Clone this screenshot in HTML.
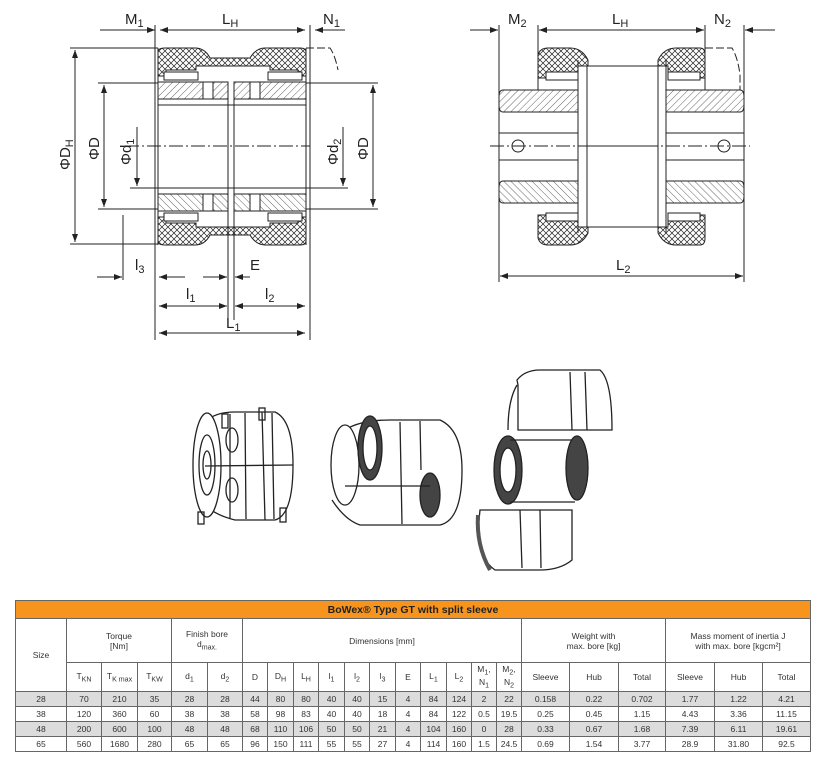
<!DOCTYPE html>
<html><head><meta charset="utf-8"><style>
body{margin:0;background:#fff;width:820px;height:772px;position:relative;overflow:hidden;font-family:"Liberation Sans",sans-serif}
svg{position:absolute;left:0;top:0}
table{position:absolute;left:15px;top:600px;border-collapse:collapse;font-size:8.5px;color:#333;table-layout:fixed}
td{border:1px solid #666;text-align:center;padding:0;height:14px;white-space:nowrap}
.h{background:#f7941d;color:#222;font-weight:bold;font-size:10.5px;height:17px}
.g td{background:#dcdcdc}
</style></head><body>
<svg width="820" height="600" viewBox="0 0 820 600">
<defs>
<pattern id="x" width="6" height="6" patternUnits="userSpaceOnUse"><path d="M0 0L6 6M6 0L0 6" stroke="#222" stroke-width="0.7"/></pattern>
<pattern id="d" width="5" height="5" patternUnits="userSpaceOnUse" patternTransform="rotate(45)"><path d="M0 0V5" stroke="#222" stroke-width="0.7"/></pattern>
<marker id="a" markerWidth="8" markerHeight="6" refX="8" refY="3" orient="auto-start-reverse"><path d="M0 0L8 3L0 6z" fill="#222"/></marker>
</defs>
<g stroke="#222" stroke-width="1" fill="none" font-family="Liberation Sans" font-size="15">
<!-- LEFT DRAWING -->
<g id="L">
<path d="M158 52Q158 48 165 48H195Q205 48 210 58H250Q256 48 265 48H300Q306 48 306 52V76H298V70H270V66H196V70H166V76H158Z" fill="url(#x)"/>
<rect x="164" y="72" width="34" height="8" fill="#fff"/><rect x="268" y="72" width="34" height="8" fill="#fff"/>
<rect x="158" y="82" width="70" height="17" fill="url(#d)"/><rect x="234" y="82" width="72" height="17" fill="url(#d)"/>
<rect x="203" y="82" width="10" height="17" fill="#fff"/><rect x="250" y="82" width="10" height="17" fill="#fff"/>
<line x1="158" y1="105" x2="306" y2="105"/>
</g>
<use href="#L" transform="translate(0,293) scale(1,-1)"/>
<line x1="158" y1="48" x2="158" y2="245"/><line x1="306" y1="48" x2="306" y2="245"/>
<line x1="228" y1="82" x2="228" y2="320"/><line x1="234" y1="82" x2="234" y2="320"/>
<line x1="155" y1="25" x2="155" y2="340"/><line x1="310" y1="25" x2="310" y2="340"/>
<line x1="125" y1="146" x2="310" y2="146" stroke-dasharray="14 3 2 3"/>
<line x1="100" y1="30" x2="155" y2="30" marker-end="url(#a)"/><line x1="160" y1="30" x2="305" y2="30" marker-start="url(#a)" marker-end="url(#a)"/><line x1="315" y1="30" x2="345" y2="30" marker-start="url(#a)"/>
<text x="125" y="24" stroke="none" fill="#222">M<tspan font-size="11" dy="3">1</tspan></text>
<text x="222" y="24" stroke="none" fill="#222">L<tspan font-size="11" dy="3">H</tspan></text>
<text x="323" y="24" stroke="none" fill="#222">N<tspan font-size="11" dy="3">1</tspan></text>
<line x1="70" y1="48" x2="158" y2="48"/><line x1="70" y1="244" x2="158" y2="244"/>
<line x1="75" y1="50" x2="75" y2="242" marker-start="url(#a)" marker-end="url(#a)"/>
<line x1="98" y1="83" x2="158" y2="83"/><line x1="98" y1="209" x2="158" y2="209"/>
<line x1="104" y1="85" x2="104" y2="207" marker-start="url(#a)" marker-end="url(#a)"/>
<line x1="130" y1="188" x2="158" y2="188"/><line x1="137" y1="127" x2="137" y2="186" marker-end="url(#a)"/>
<line x1="306" y1="83" x2="378" y2="83"/><line x1="306" y1="209" x2="378" y2="209"/><line x1="306" y1="188" x2="348" y2="188"/>
<line x1="373" y1="85" x2="373" y2="207" marker-start="url(#a)" marker-end="url(#a)"/>
<line x1="343" y1="127" x2="343" y2="186" marker-end="url(#a)"/>
<g stroke="none" fill="#222">
<text transform="translate(70,170) rotate(-90)">ΦD<tspan font-size="11" dy="3">H</tspan></text>
<text transform="translate(99,160) rotate(-90)">ΦD</text>
<text transform="translate(131,165) rotate(-90)">Φd<tspan font-size="11" dy="3">1</tspan></text>
<text transform="translate(338,165) rotate(-90)">Φd<tspan font-size="11" dy="3">2</tspan></text>
<text transform="translate(368,160) rotate(-90)">ΦD</text>
<text x="135" y="270">l<tspan font-size="11" dy="3">3</tspan></text>
<text x="250" y="270">E</text>
<text x="186" y="299">l<tspan font-size="11" dy="3">1</tspan></text>
<text x="265" y="299">l<tspan font-size="11" dy="3">2</tspan></text>
<text x="226" y="328">L<tspan font-size="11" dy="3">1</tspan></text>
</g>
<line x1="123" y1="215" x2="123" y2="280"/>
<line x1="97" y1="277" x2="122" y2="277" marker-end="url(#a)"/><line x1="159" y1="277" x2="185" y2="277" marker-start="url(#a)"/>
<line x1="203" y1="277" x2="227" y2="277" marker-end="url(#a)"/><line x1="235" y1="277" x2="250" y2="277" marker-start="url(#a)"/>
<line x1="159" y1="306" x2="227" y2="306" marker-start="url(#a)" marker-end="url(#a)"/><line x1="235" y1="306" x2="305" y2="306" marker-start="url(#a)" marker-end="url(#a)"/>
<line x1="159" y1="333" x2="305" y2="333" marker-start="url(#a)" marker-end="url(#a)"/>
<path d="M306 48H330Q335 55 338 70" stroke-dasharray="8 3"/>
<!-- RIGHT DRAWING -->
<g id="R">
<path d="M538 55Q540 48 548 48H570Q582 48 588 60V66H658V60Q664 48 676 48H700Q705 48 705 55V78H698V74H668V66H578V74H546V78H538Z" fill="url(#x)"/>
<rect x="546" y="72" width="32" height="8" fill="#fff"/><rect x="668" y="72" width="32" height="8" fill="#fff"/>
<path d="M503 90H578V112H503Q499 112 499 105V97Q499 90 503 90Z" fill="url(#d)"/>
<path d="M666 90H740Q744 90 744 97V105Q744 112 740 112H666Z" fill="url(#d)"/>
<line x1="499" y1="133" x2="578" y2="133"/><line x1="666" y1="133" x2="744" y2="133"/>
</g>
<use href="#R" transform="translate(0,293) scale(1,-1)"/>
<rect x="587" y="66" width="71" height="161" fill="#fff"/>
<line x1="587" y1="146" x2="658" y2="146"/>
<line x1="578" y1="60" x2="578" y2="233"/><line x1="666" y1="60" x2="666" y2="233"/>
<circle cx="518" cy="146" r="6"/><circle cx="724" cy="146" r="6"/>
<line x1="490" y1="146" x2="750" y2="146" stroke-dasharray="14 3 2 3"/>
<line x1="499" y1="25" x2="499" y2="282"/><line x1="744" y1="25" x2="744" y2="282"/>
<line x1="538" y1="25" x2="538" y2="90"/><line x1="705" y1="25" x2="705" y2="90"/>
<line x1="470" y1="30" x2="498" y2="30" marker-end="url(#a)"/><line x1="539" y1="30" x2="704" y2="30" marker-start="url(#a)" marker-end="url(#a)"/><line x1="745" y1="30" x2="775" y2="30" marker-start="url(#a)"/>
<line x1="500" y1="276" x2="743" y2="276" marker-start="url(#a)" marker-end="url(#a)"/>
<g stroke="none" fill="#222">
<text x="508" y="24">M<tspan font-size="11" dy="3">2</tspan></text>
<text x="612" y="24">L<tspan font-size="11" dy="3">H</tspan></text>
<text x="714" y="24">N<tspan font-size="11" dy="3">2</tspan></text>
<text x="616" y="270">L<tspan font-size="11" dy="3">2</tspan></text>
</g>
<path d="M705 48H732Q738 58 740 75V90" stroke-dasharray="8 3"/>
<!-- 3D sketches -->
<g stroke-width="1.3">
<path d="M205 422Q215 412 235 412H275Q293 420 293 465Q293 515 275 520H235Q215 515 205 505"/>
<ellipse cx="207" cy="465" rx="14" ry="52" fill="#fff"/><ellipse cx="207" cy="465" rx="8" ry="30"/><ellipse cx="207" cy="465" rx="4" ry="14"/>
<line x1="205" y1="466" x2="293" y2="465"/><line x1="262" y1="412" x2="265" y2="520"/><line x1="230" y1="414" x2="230" y2="518"/>
<line x1="245" y1="413" x2="246" y2="519"/><line x1="272" y1="413" x2="274" y2="519"/>
<ellipse cx="232" cy="440" rx="6" ry="12"/><ellipse cx="232" cy="490" rx="6" ry="12"/>
<rect x="222" y="414" width="6" height="14"/><rect x="259" y="408" width="6" height="12"/><rect x="280" y="508" width="6" height="14"/><rect x="198" y="512" width="6" height="12"/>
<path d="M345 430Q360 420 390 420H440Q462 430 462 470Q462 520 440 525H360Q345 520 332 500"/>
<ellipse cx="345" cy="465" rx="14" ry="40" fill="#fff"/><ellipse cx="370" cy="448" rx="12" ry="32" fill="#444"/><ellipse cx="370" cy="448" rx="7" ry="22" fill="#fff"/>
<ellipse cx="430" cy="495" rx="10" ry="22" fill="#444"/><line x1="400" y1="422" x2="402" y2="524"/>
<line x1="420" y1="421" x2="421" y2="470"/><line x1="345" y1="486" x2="430" y2="486"/>
<path d="M517 380Q525 370 540 370H600Q612 380 612 430H518V385Z"/><path d="M517 385Q508 400 508 430" />
<line x1="570" y1="372" x2="572" y2="430"/><line x1="585" y1="372" x2="587" y2="430"/>
<ellipse cx="508" cy="470" rx="14" ry="34" fill="#444"/><ellipse cx="508" cy="470" rx="8" ry="22" fill="#fff"/>
<line x1="510" y1="440" x2="575" y2="440"/><line x1="510" y1="502" x2="575" y2="502"/>
<ellipse cx="577" cy="468" rx="11" ry="32" fill="#444"/>
<path d="M480 510H572V560Q560 570 540 570H495Q480 560 478 530Z"/><path d="M478 515Q476 545 490 570" stroke-width="4" stroke="#555"/>
<line x1="520" y1="510" x2="522" y2="568"/><line x1="540" y1="510" x2="541" y2="568"/>
</g>
</g>
</svg>
<table>
<colgroup><col style="width:51px"><col style="width:35px"><col style="width:36px"><col style="width:34px"><col style="width:36px"><col style="width:35px"><col style="width:25px"><col style="width:26px"><col style="width:25px"><col style="width:26px"><col style="width:25px"><col style="width:26px"><col style="width:25px"><col style="width:26px"><col style="width:25px"><col style="width:25px"><col style="width:25px"><col style="width:48px"><col style="width:49px"><col style="width:47px"><col style="width:49px"><col style="width:48px"><col style="width:48px"></colgroup>
<tr><td colspan="23" class="h">BoWex® Type GT with split sleeve</td></tr>
<tr style="height:44px"><td rowspan="2">Size</td><td colspan="3">Torque<br>[Nm]</td><td colspan="2">Finish bore<br>d<sub>max.</sub></td><td colspan="11">Dimensions [mm]</td><td colspan="3">Weight with<br>max. bore [kg]</td><td colspan="3">Mass moment of inertia J<br>with max. bore [kgcm²]</td></tr>
<tr style="height:29px"><td>T<sub>KN</sub></td><td>T<sub>K max</sub></td><td>T<sub>KW</sub></td><td>d<sub>1</sub></td><td>d<sub>2</sub></td><td>D</td><td>D<sub>H</sub></td><td>L<sub>H</sub></td><td>l<sub>1</sub></td><td>l<sub>2</sub></td><td>l<sub>3</sub></td><td>E</td><td>L<sub>1</sub></td><td>L<sub>2</sub></td><td>M<sub>1</sub>,<br>N<sub>1</sub></td><td>M<sub>2</sub>,<br>N<sub>2</sub></td><td>Sleeve</td><td>Hub</td><td>Total</td><td>Sleeve</td><td>Hub</td><td>Total</td></tr>
<tr class="g"><td>28</td><td>70</td><td>210</td><td>35</td><td>28</td><td>28</td><td>44</td><td>80</td><td>80</td><td>40</td><td>40</td><td>15</td><td>4</td><td>84</td><td>124</td><td>2</td><td>22</td><td>0.158</td><td>0.22</td><td>0.702</td><td>1.77</td><td>1.22</td><td>4.21</td></tr>
<tr><td>38</td><td>120</td><td>360</td><td>60</td><td>38</td><td>38</td><td>58</td><td>98</td><td>83</td><td>40</td><td>40</td><td>18</td><td>4</td><td>84</td><td>122</td><td>0.5</td><td>19.5</td><td>0.25</td><td>0.45</td><td>1.15</td><td>4.43</td><td>3.36</td><td>11.15</td></tr>
<tr class="g"><td>48</td><td>200</td><td>600</td><td>100</td><td>48</td><td>48</td><td>68</td><td>110</td><td>106</td><td>50</td><td>50</td><td>21</td><td>4</td><td>104</td><td>160</td><td>0</td><td>28</td><td>0.33</td><td>0.67</td><td>1.68</td><td>7.39</td><td>6.11</td><td>19.61</td></tr>
<tr><td>65</td><td>560</td><td>1680</td><td>280</td><td>65</td><td>65</td><td>96</td><td>150</td><td>111</td><td>55</td><td>55</td><td>27</td><td>4</td><td>114</td><td>160</td><td>1.5</td><td>24.5</td><td>0.69</td><td>1.54</td><td>3.77</td><td>28.9</td><td>31.80</td><td>92.5</td></tr>
</table>
</body></html>
